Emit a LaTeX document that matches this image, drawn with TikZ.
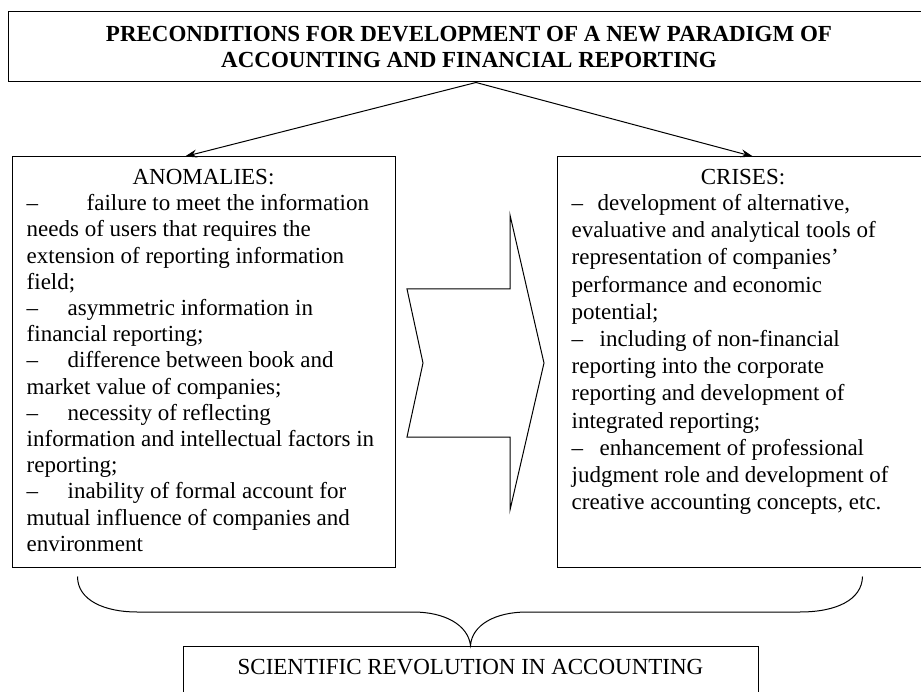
\documentclass[tikz,border=0pt]{standalone}
\usepackage{fontspec}
\setmainfont{Liberation Serif}
\usetikzlibrary{arrows.meta,positioning}

\begin{document}
\begin{tikzpicture}[x=1pt,y=-1pt,
    box/.style={draw,line width=1pt,inner sep=0pt},
    txt/.style={inner sep=0pt,font=\fontsize{23}{26.2}\selectfont},
    arr/.style={-{Stealth[length=12pt,width=8pt]},line width=1pt}]
  \useasboundingbox (0,0) rectangle (921,692);
  \clip (0,0) rectangle (921,692);
  % boxes
  \node[box,minimum width=922pt,minimum height=70pt,align=center,
        font=\bfseries\fontsize{23}{26}\selectfont] (top) at (469,47)
        {PRECONDITIONS FOR DEVELOPMENT OF A NEW PARADIGM OF\\
         ACCOUNTING AND FINANCIAL REPORTING};
  \node[box,minimum width=383pt,minimum height=410pt] (anom) at (203.5,362) {};
  \node[box,minimum width=372pt,minimum height=410pt] (cris) at (743,362) {};
  \node[box,minimum width=575pt,minimum height=60pt] (rev) at (470.5,676) {};
  % texts
  \node[txt,anchor=base] (anomhead) at ([yshift=-28pt]anom.north) {ANOMALIES:};
  \node[txt,anchor=base] (crishead) at ([yshift=-28pt]cris.north) {CRISES:};
  \node[txt,anchor=base west] (anomlist) at ([xshift=15pt,yshift=-54.2pt]anom.north west)
    {\parbox[t]{362pt}{\raggedright
      \makebox[60pt][l]{–}failure to meet the information\\
      needs of users that requires the\\
      extension of reporting information\\
      field;\\
      \makebox[41pt][l]{–}asymmetric information in\\
      financial reporting;\\
      \makebox[41pt][l]{–}difference between book and\\
      market value of companies;\\
      \makebox[41pt][l]{–}necessity of reflecting\\
      information and intellectual factors in\\
      reporting;\\
      \makebox[41pt][l]{–}inability of formal account for\\
      mutual influence of companies and\\
      environment}};
  \node[txt,anchor=base west] (crislist) at ([xshift=15pt,yshift=-54pt]cris.north west)
    {\parbox[t]{350pt}{\fontsize{23}{27.2}\selectfont\raggedright
      \makebox[26pt][l]{–}development of alternative,\\
      evaluative and analytical tools of\\
      representation of companies’\\
      performance and economic\\
      potential;\\
      \makebox[28pt][l]{–}including of non-financial\\
      reporting into the corporate\\
      reporting and development of\\
      integrated reporting;\\
      \makebox[28pt][l]{–}enhancement of professional\\
      judgment role and development of\\
      creative accounting concepts, etc.}};
  \node[txt,anchor=base] (revtext) at ([yshift=-29pt]rev.north)
    {SCIENTIFIC REVOLUTION IN ACCOUNTING};
  % arrows
  \draw[arr] ([xshift=7pt]top.south) -- ([xshift=-18.5pt]anom.north);
  \draw[arr] ([xshift=7pt]top.south) -- ([xshift=10pt]cris.north);
  % big arrow between the boxes
  \draw[line width=1pt] (510,215) -- (510,289) -- (407,289) -- (423,363)
    -- (407,437) -- (510,437) -- (510,510) -- (544,363) -- cycle;
  % brace
  \coordinate (bl) at ([xshift=66pt,yshift=-9pt]anom.south west);
  \coordinate (br) at ([xshift=-67pt,yshift=-9pt]cris.south east);
  \draw[line width=1pt] (bl) .. controls +(0,24) and (105,612) .. (137,612)
    -- (413,612) .. controls (445,612) and (468,625) .. (rev.north)
    .. controls (472,625) and (495,612) .. (527,612)
    -- (800,612) .. controls (836,612) and (862,600) .. (br);
\end{tikzpicture}
\end{document}
